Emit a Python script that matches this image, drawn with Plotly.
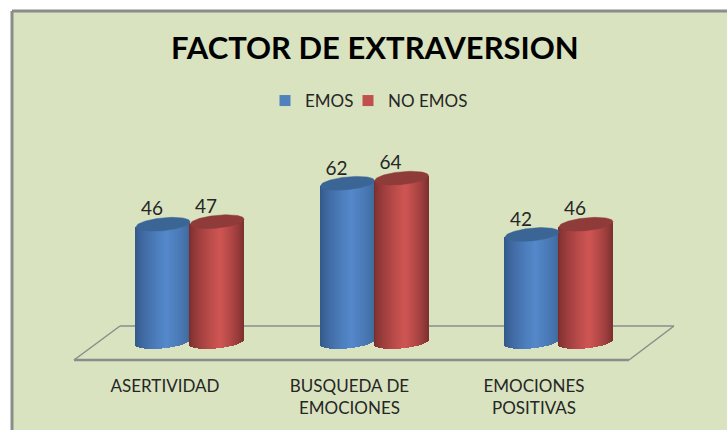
import numpy as np
import plotly.graph_objects as go

categories = ["ASERTIVIDAD", "BUSQUEDA DE<br>EMOCIONES", "EMOCIONES<br>POSITIVAS"]
emos = [46, 62, 42]
no_emos = [47, 64, 46]

W, H = 727, 430
ML, MT = 12, 11
PX_PER_CAT = 184.5
PX_PER_VAL = 2.56
X0_PX, Y0_PX = 190, 342          # pixel of first group centre / value 0

x_range = [(ML - X0_PX) / PX_PER_CAT, (W - X0_PX) / PX_PER_CAT]
y_range = [(Y0_PX - H) / PX_PER_VAL, (Y0_PX - MT) / PX_PER_VAL]

def ux(px):
    return (px - X0_PX) / PX_PER_CAT

def uy(py):
    return (Y0_PX - py) / PX_PER_VAL

CYL_W = 54 / PX_PER_CAT
B = 2.5      # ellipse half height (value units)
TILT = 1.0   # rise of ellipse toward the right

def mix(a, b, f):
    return tuple(a[i] + (b[i] - a[i]) * f for i in range(3))

def rgb(c):
    return "rgb(%d,%d,%d)" % tuple(round(v) for v in c)

def shade(t, dark_l, light, dark_r):
    peak = 0.15
    if t < peak:
        f = (t + 1) / (peak + 1)
        return mix(dark_l, light, f ** 0.7)
    f = (1 - t) / (1 - peak)
    return mix(dark_r, light, f ** 0.7)

def front(t):
    return -B * np.sqrt(np.clip(1 - t * t, 0, 1)) + TILT * t

def back(t):
    return B * np.sqrt(np.clip(1 - t * t, 0, 1)) + TILT * t

SERIES = [
    ("EMOS", emos, -0.5, "#4f81bd", (50, 86, 135), (84, 136, 203), (62, 104, 155), "#3b6595", "legend"),
    ("NO EMOS", no_emos, 0.5, "#c0504d", (118, 44, 44), (207, 85, 83), (122, 46, 46), "#8f3b3a", "legend2"),
]

fig = go.Figure()
N = 54
ts = (np.arange(N) + 0.5) / N * 2 - 1
slice_w = CYL_W / N * 1.25

for name, values, side, base_col, dl, li, dr, cap, leg in SERIES:
    xs, bases, heights, cols = [], [], [], []
    for i, v in enumerate(values):
        cx = i + side * CYL_W
        for t in ts:
            xs.append(cx + t * CYL_W / 2)
            bases.append(float(front(t)))
            heights.append(float(v + TILT * t - front(t)))
            cols.append(rgb(shade(float(t), dl, li, dr)))
    fig.add_trace(go.Bar(
        x=xs, y=heights, base=bases, width=slice_w,
        marker=dict(color=cols, line=dict(width=0)),
        showlegend=False, hoverinfo="skip",
    ))

for name, values, side, base_col, dl, li, dr, cap, leg in SERIES:
    for i, v in enumerate(values):
        cx = i + side * CYL_W
        tt = np.linspace(-1, 1, 61)
        px = np.concatenate([cx + tt * CYL_W / 2, cx + tt[::-1] * CYL_W / 2])
        py = np.concatenate([v + back(tt), v + front(tt[::-1])])
        fig.add_trace(go.Scatter(
            x=px, y=py, mode="lines", fill="toself", fillcolor=cap,
            line=dict(width=0.5, color=cap), showlegend=False, hoverinfo="skip",
        ))
    fig.add_trace(go.Scatter(
        x=[i + side * CYL_W - 11 / PX_PER_CAT for i in range(3)],
        y=[v + 13.5 / PX_PER_VAL for v in values],
        mode="text", text=[str(v) for v in values], textposition="middle center",
        textfont=dict(family="Lato", size=19, color="#262626"),
        showlegend=False, hoverinfo="skip",
    ))
    fig.add_trace(go.Scatter(
        x=[None], y=[None], mode="markers", name=name, legend=leg,
        marker=dict(symbol="square", size=11, color=base_col),
    ))

FLOOR = "#8c8c8c"
floor_shapes = [
    dict(x0=74, y0=360, x1=120, y1=326, w=1.5),
    dict(x0=120, y0=326, x1=674, y1=326, w=1.5),
    dict(x0=674, y0=326, x1=629, y1=360, w=1.5),
    dict(x0=629, y0=360, x1=74, y1=360, w=2.5),
]
shapes = [dict(type="line", xref="x", yref="y", layer="below",
               x0=ux(s["x0"]), y0=uy(s["y0"]), x1=ux(s["x1"]), y1=uy(s["y1"]),
               line=dict(color=FLOOR, width=s["w"])) for s in floor_shapes]
shapes += [
    dict(type="line", xref="paper", yref="paper", x0=0, x1=0, y0=0, y1=1, line=dict(color=FLOOR, width=3)),
    dict(type="line", xref="paper", yref="paper", x0=0, x1=1, y0=1, y1=1, line=dict(color=FLOOR, width=3)),
]

def legend_at(text_px):
    return dict(orientation="h", x=(text_px - 40 - ML) / (W - ML), xanchor="left",
                y=(H - 101) / (H - MT), yanchor="middle",
                font=dict(family="Lato", size=17, color="#262626"),
                bgcolor="rgba(0,0,0,0)", itemclick=False, itemdoubleclick=False)

fig.update_layout(
    width=W, height=H,
    margin=dict(l=ML, r=0, t=MT, b=0, autoexpand=False),
    paper_bgcolor="white", plot_bgcolor="#d9e3bf",
    barmode="overlay", bargap=0,
    font=dict(family="Lato", color="#262626"),
    title=dict(text="<b>FACTOR DE EXTRAVERSION</b>", x=369 / W, xref="paper", xanchor="center",
               y=1 - 48 / H, yref="container", yanchor="middle",
               font=dict(family="Lato", size=31, color="black")),
    legend=legend_at(305),
    legend2=legend_at(388),
    xaxis=dict(range=x_range, tickmode="array",
               tickvals=[i - 25 / PX_PER_CAT for i in range(3)], ticktext=categories,
               showgrid=False, zeroline=False, showline=False, ticks="",
               anchor="free", position=(H - 374) / (H - MT), ticklabelstandoff=0,
               tickfont=dict(family="Lato", size=17, color="#262626"), fixedrange=True),
    yaxis=dict(range=y_range, visible=False, fixedrange=True),
    shapes=shapes,
    showlegend=True,
)

fig.write_html("out.html", config={"displayModeBar": False},
               post_script="document.body.style.margin='0';document.body.style.overflow='hidden';")
